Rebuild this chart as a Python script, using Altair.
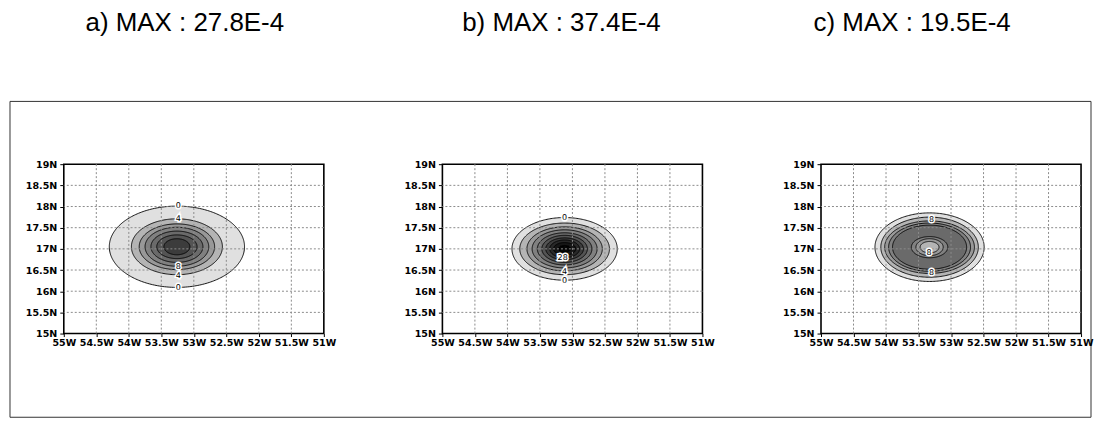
import altair as alt
import numpy as np
import pandas as pd

TITLES = ["a) MAX : 27.8E-4", "b) MAX : 37.4E-4", "c) MAX : 19.5E-4"]
TITLE_DX = [-9, -11, -39]

LON_TICKS = [-55.0, -54.5, -54.0, -53.5, -53.0, -52.5, -52.0, -51.5, -51.0]
LAT_TICKS = [15.0, 15.5, 16.0, 16.5, 17.0, 17.5, 18.0, 18.5, 19.0]

# grey shading by interval lower bound
SHADE_FROM = [0, 4, 8, 12, 16, 20, 24, 28, 32, 36]
SHADE_COLORS = ["#e0e0e0", "#b4b4b4", "#989898", "#808080", "#6a6a6a",
                "#545454", "#3c3c3c", "#282828", "#161616", "#060606"]

# panel a
A_CENTER = (-53.26, 17.05)
A_LEVELS = [0, 4, 8, 12, 16, 20, 24]
A_INSIDE = [0, 4, 8, 12, 16, 20, 24]
A_RX = [1.04, 0.70, 0.58, 0.49, 0.40, 0.31, 0.20]
A_RY = [0.96, 0.66, 0.54, 0.46, 0.37, 0.28, 0.19]
A_LAB_LON = [-53.24, -53.24, -53.24, -53.24, -53.24]
A_LAB_LAT = [18.02, 17.70, 16.58, 16.37, 16.08]
A_LAB_TXT = ["0", "4", "8", "4", "0"]

# panel b
B_CENTER = (-53.12, 17.0)
B_LEVELS = [0, 4, 8, 12, 16, 20, 24, 28, 32, 36]
B_INSIDE = [0, 4, 8, 12, 16, 20, 24, 28, 32, 36]
B_RX = [0.81, 0.69, 0.58, 0.50, 0.42, 0.35, 0.29, 0.23, 0.17, 0.09]
B_RY = [0.74, 0.61, 0.52, 0.45, 0.38, 0.32, 0.26, 0.21, 0.15, 0.08]
B_LAB_LON = [-53.12, -53.15, -53.12, -53.12]
B_LAB_LAT = [17.74, 16.78, 16.45, 16.23]
B_LAB_TXT = ["0", "28", "4", "0"]

# panel c (ring-shaped maximum, lighter centre)
C_CENTER = (-53.33, 17.04)
C_LEVELS = [0, 4, 8, 12, 16, 16, 12, 8]
C_INSIDE = [0, 4, 8, 12, 16, 12, 8, 4]
C_RX = [0.84, 0.75, 0.69, 0.63, 0.57, 0.28, 0.21, 0.145]
C_RY = [0.81, 0.71, 0.62, 0.57, 0.52, 0.25, 0.20, 0.135]
C_LAB_LON = [-53.30, -53.34, -53.30]
C_LAB_LAT = [17.67, 16.90, 16.44]
C_LAB_TXT = ["8", "8", "8"]

PANEL_W, PANEL_H = 261, 170
FRAME_UP = 63        # outer frame top above the panels
FRAME_DOWN = 254     # outer frame bottom below the panels' top
FRAME_LEFT = -54     # relative to first panel
FRAME_RIGHT = 1031
TITLE_OFFSET = 103
AXIS_OVERHANG = 5    # top y label sticks out above the panels

xscale = alt.Scale(domain=[-55, -51], nice=False, zero=False)
yscale = alt.Scale(domain=[15, 19], nice=False, zero=False)

AX_FONT = "DejaVu Sans"
xaxis = alt.Axis(values=LON_TICKS, labelExpr="(-datum.value) + 'W'", grid=False,
                 domain=False, tickSize=3, tickColor="black", tickWidth=1,
                 labelFont=AX_FONT, labelFontWeight="bold", labelFontSize=9.6,
                 labelColor="black", labelPadding=1, title=None,
                 labelOverlap=False, labelFlush=False)
yaxis = alt.Axis(values=LAT_TICKS, labelExpr="datum.value + 'N'", grid=False,
                 domain=False, tickSize=4, tickColor="black", tickWidth=1,
                 labelFont=AX_FONT, labelFontWeight="bold", labelFontSize=9.6,
                 labelColor="black", labelPadding=3, title=None,
                 labelOverlap=False, labelFlush=False)


def shade(v):
    return SHADE_COLORS[SHADE_FROM.index(v)]


def panel(idx, center, levels, inside, rxs, rys, lab_lon, lab_lat, lab_txt, frame=False):
    cx, cy = center
    layers = []
    t = np.linspace(0, np.pi, 121)
    for lev, ins, rx, ry in zip(levels, inside, rxs, rys):
        df = pd.DataFrame({
            "lon": cx + rx * np.cos(t),
            "hi": cy + ry * np.sin(t),
            "lo": cy - ry * np.sin(t),
        })
        layers.append(
            alt.Chart(df).mark_area(fill=shade(ins), stroke="black", strokeWidth=0.9,
                                    fillOpacity=1)
            .encode(x=alt.X("lon:Q", scale=xscale, axis=xaxis),
                    y=alt.Y("hi:Q", scale=yscale, axis=yaxis),
                    y2="lo:Q")
        )
    inner_lon = pd.DataFrame({"lon": LON_TICKS[1:-1]})
    inner_lat = pd.DataFrame({"hi": LAT_TICKS[1:-1]})
    layers.append(
        alt.Chart(inner_lon).mark_rule(color="#8c8c8c", strokeDash=[2, 2], strokeWidth=1)
        .encode(x=alt.X("lon:Q", scale=xscale, axis=xaxis))
    )
    layers.append(
        alt.Chart(inner_lat).mark_rule(color="#8c8c8c", strokeDash=[2, 2], strokeWidth=1)
        .encode(y=alt.Y("hi:Q", scale=yscale, axis=yaxis))
    )
    labs = pd.DataFrame({"lon": lab_lon, "hi": lab_lat, "txt": lab_txt})
    enc = dict(x=alt.X("lon:Q", scale=xscale, axis=xaxis),
               y=alt.Y("hi:Q", scale=yscale, axis=yaxis), text="txt:N")
    layers.append(
        alt.Chart(labs).mark_text(font=AX_FONT, fontSize=8, stroke="white", strokeWidth=3,
                                  fill="white", baseline="middle", align="center")
        .encode(**enc)
    )
    layers.append(
        alt.Chart(labs).mark_text(font=AX_FONT, fontSize=8, color="black",
                                  baseline="middle", align="center")
        .encode(**enc)
    )
    offset = TITLE_OFFSET
    if frame:
        one = pd.DataFrame({"k": [0]})
        layers.append(
            alt.Chart(one).mark_rect(fillOpacity=0, stroke="#333333", strokeWidth=1)
            .encode(x=alt.value(FRAME_LEFT), x2=alt.value(FRAME_RIGHT),
                    y=alt.value(-FRAME_UP), y2=alt.value(FRAME_DOWN))
        )
        offset = TITLE_OFFSET + AXIS_OVERHANG - FRAME_UP - 0.5
    return alt.layer(*layers).properties(
        width=PANEL_W, height=PANEL_H,
        title=alt.TitleParams(TITLES[idx], font="Liberation Sans", fontSize=26,
                              fontWeight="normal", color="black", anchor="middle",
                              baseline="alphabetic", offset=offset, dx=TITLE_DX[idx]),
    )


pa = panel(0, A_CENTER, A_LEVELS, A_INSIDE, A_RX, A_RY, A_LAB_LON, A_LAB_LAT, A_LAB_TXT, frame=True)
pb = panel(1, B_CENTER, B_LEVELS, B_INSIDE, B_RX, B_RY, B_LAB_LON, B_LAB_LAT, B_LAB_TXT)
pc = panel(2, C_CENTER, C_LEVELS, C_INSIDE, C_RX, C_RY, C_LAB_LON, C_LAB_LAT, C_LAB_TXT)

chart = alt.hconcat(pa, pb, pc, spacing=119, bounds="flush").properties(
    padding={"left": 0, "top": 0, "right": 0, "bottom": 0}
).configure_view(stroke="black", strokeWidth=1.6, fill="white")

chart.save("out.html", embed_options={"renderer": "svg", "actions": False})
